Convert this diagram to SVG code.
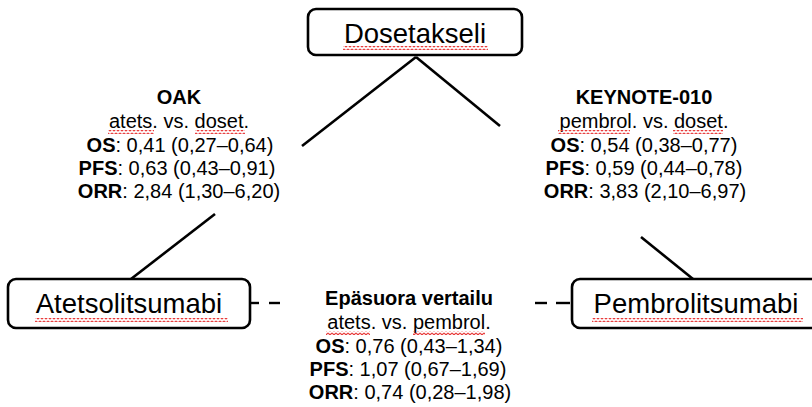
<svg xmlns="http://www.w3.org/2000/svg" width="812" height="407" viewBox="0 0 812 407">
<defs>
<pattern id="sq" patternUnits="userSpaceOnUse" width="4" height="4">
<path d="M0,1 L2,3 L4,1" fill="none" stroke="#e83c3c" stroke-width="1.2"/>
</pattern>
<style>
.box{fill:#fff;stroke:#000;stroke-width:2.6}
.lbl{font-family:"Liberation Sans",Arial,sans-serif;font-size:27.5px;fill:#000;text-anchor:middle}
.st{font-family:"Liberation Sans",Arial,sans-serif;font-size:20px;fill:#000;text-anchor:middle}
.b{font-weight:bold}
.ln{stroke:#000;stroke-width:2.6;fill:none}
.dash{stroke:#000;stroke-width:2.4;fill:none}
.squig{fill:url(#sq)}
</style>
</defs>
<g id="connectors">
<line class="ln" x1="416" y1="57" x2="302" y2="146"/>
<line class="ln" x1="416" y1="57" x2="500" y2="126"/>
<line class="ln" x1="215" y1="214" x2="131" y2="279"/>
<line class="ln" x1="641" y1="237" x2="693" y2="279"/>
<line class="dash" x1="251" y1="303" x2="259" y2="303"/>
<line class="dash" x1="269" y1="303" x2="280" y2="303"/>
<line class="dash" x1="535" y1="303" x2="547" y2="303"/>
<line class="dash" x1="556" y1="303" x2="570" y2="303"/>
</g>
<g id="dosetakseli">
<rect class="box" x="308" y="9" width="214" height="46" rx="8"/>
<text class="lbl" x="415" y="43">Dosetakseli</text>
<rect class="squig" x="343" y="46" width="145" height="4"/>
</g>
<g id="atetsolitsumabi">
<rect class="box" x="8" y="279" width="242" height="49" rx="8"/>
<text class="lbl" x="129" y="313">Atetsolitsumabi</text>
<rect class="squig" x="35" y="318" width="193" height="4"/>
</g>
<g id="pembrolitsumabi">
<rect class="box" x="572" y="279" width="260" height="49" rx="8"/>
<text class="lbl" x="696" y="313">Pembrolitsumabi</text>
<rect class="squig" x="592" y="318" width="211" height="4"/>
</g>
<g id="oak">
<text class="st b" x="179" y="104">OAK</text>
<text class="st" x="179" y="128">atets. vs. doset.</text>
<text class="st" x="180" y="152"><tspan class="b">OS</tspan>: 0,41 (0,27–0,64)</text>
<text class="st" x="177" y="175"><tspan class="b">PFS</tspan>: 0,63 (0,43–0,91)</text>
<text class="st" x="179" y="198"><tspan class="b">ORR</tspan>: 2,84 (1,30–6,20)</text>
<rect class="squig" x="108" y="130" width="46" height="4"/>
<rect class="squig" x="195" y="130" width="50" height="4"/>
</g>
<g id="keynote">
<text class="st b" x="644" y="104">KEYNOTE-010</text>
<text class="st" x="644" y="128">pembrol. vs. doset.</text>
<text class="st" x="644" y="152"><tspan class="b">OS</tspan>: 0,54 (0,38–0,77)</text>
<text class="st" x="644" y="175"><tspan class="b">PFS</tspan>: 0,59 (0,44–0,78)</text>
<text class="st" x="645" y="198"><tspan class="b">ORR</tspan>: 3,83 (2,10–6,97)</text>
<rect class="squig" x="558" y="130" width="72" height="4"/>
<rect class="squig" x="673" y="130" width="50" height="4"/>
</g>
<g id="epasuora">
<text class="st b" x="409" y="305">Epäsuora vertailu</text>
<text class="st" x="409" y="329">atets. vs. pembrol.</text>
<text class="st" x="409" y="353"><tspan class="b">OS</tspan>: 0,76 (0,43–1,34)</text>
<text class="st" x="408" y="376"><tspan class="b">PFS</tspan>: 1,07 (0,67–1,69)</text>
<text class="st" x="410" y="399"><tspan class="b">ORR</tspan>: 0,74 (0,28–1,98)</text>
<rect class="squig" x="326" y="331" width="44" height="4"/>
<rect class="squig" x="413" y="331" width="72" height="4"/>
</g>
</svg>
